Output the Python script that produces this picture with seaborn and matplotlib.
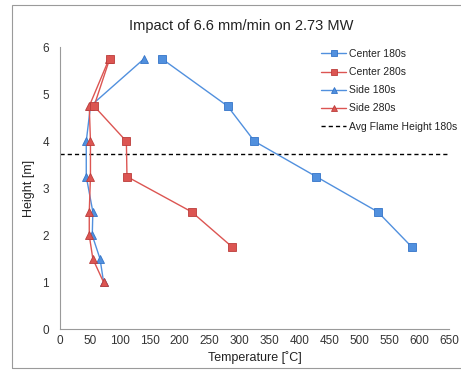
import matplotlib
matplotlib.use("Agg")
import matplotlib.pyplot as plt
import seaborn as sns
from matplotlib.patches import Rectangle

sns.set_theme(style="white")
plt.rcParams['font.family'] = ['Liberation Sans', 'DejaVu Sans']

# Data
center180_t = [171, 280, 325, 428, 531, 588]
center180_h = [5.75, 4.75, 4.0, 3.25, 2.5, 1.75]
center280_t = [83, 57, 111, 112, 220, 288]
center280_h = [5.75, 4.75, 4.0, 3.25, 2.5, 1.75]
side180_t = [140, 51, 44, 44, 55, 54, 67, 73]
side180_h = [5.75, 4.75, 4.0, 3.25, 2.5, 2.0, 1.5, 1.0]
side280_t = [82, 49, 51, 51, 49, 49, 55, 73]
side280_h = [5.75, 4.75, 4.0, 3.25, 2.5, 2.0, 1.5, 1.0]
flame_height = 3.72

blue = '#5190de'
blue_edge = '#3474c8'
red = '#dc5552'
red_edge = '#bb3d3b'

fig = plt.figure(figsize=(4.61, 3.83), dpi=100)
ax = fig.add_axes([0.130, 0.140, 0.844, 0.7365])

common = dict(sort=False, estimator=None, linewidth=1.0, markersize=5.8, ax=ax)
sns.lineplot(x=center180_t, y=center180_h, color=blue, marker='s',
             markeredgecolor=blue_edge, markeredgewidth=0.6, label='Center 180s', zorder=3, **common)
sns.lineplot(x=center280_t, y=center280_h, color=red, marker='s',
             markeredgecolor=red_edge, markeredgewidth=0.6, label='Center 280s', zorder=5, **common)
sns.lineplot(x=side180_t, y=side180_h, color=blue, marker='^',
             markeredgecolor=blue_edge, markeredgewidth=0.6, label='Side 180s', zorder=3, **common)
sns.lineplot(x=side280_t, y=side280_h, color=red, marker='^',
             markeredgecolor=red_edge, markeredgewidth=0.6, label='Side 280s', zorder=4, **common)
ax.axhline(flame_height, color='black', linestyle=(0, (3, 2.2)), linewidth=1.0,
           label='Avg Flame Height 180s', zorder=2)

ax.set_xlim(0, 650)
ax.set_ylim(0, 6)
ax.set_xticks(range(0, 651, 50))
ax.set_yticks(range(0, 7))
ax.tick_params(axis='x', direction='in', length=3, width=0.8, color='#9a9a9a',
               labelsize=8.5, labelcolor='#333333', pad=4)
ax.tick_params(axis='y', direction='in', length=3, width=0.8, color='#9a9a9a',
               labelsize=8.5, labelcolor='#333333', pad=8)
for s in ['top', 'right']:
    ax.spines[s].set_visible(False)
for s in ['left', 'bottom']:
    ax.spines[s].set_color('#9a9a9a')
    ax.spines[s].set_linewidth(0.8)

ax.set_xlabel('Temperature [˚C]', fontsize=9, color='#222222', labelpad=3)
ax.set_ylabel('Height [m]', fontsize=9, color='#222222', labelpad=5)
fig.text(0.523, 0.933, 'Impact of 6.6 mm/min on 2.73 MW', ha='center', va='center',
         fontsize=10.5, color='#222222')

leg = ax.legend(loc='upper left', bbox_to_anchor=(0.697, 0.872), bbox_transform=fig.transFigure,
                frameon=False, fontsize=7.5, handlelength=2.4, handletextpad=0.3,
                labelspacing=0.78, borderaxespad=0, borderpad=0, markerscale=0.7)
for t in leg.get_texts():
    t.set_color('#222222')

# outer frame
fig.patches.append(Rectangle((12 / 461, 1 - 368 / 383), 1.2, (368 - 5) / 383,
                             transform=fig.transFigure, fill=False,
                             edgecolor='#9a9a9a', linewidth=0.8))

fig.savefig('out.png', dpi=100)
